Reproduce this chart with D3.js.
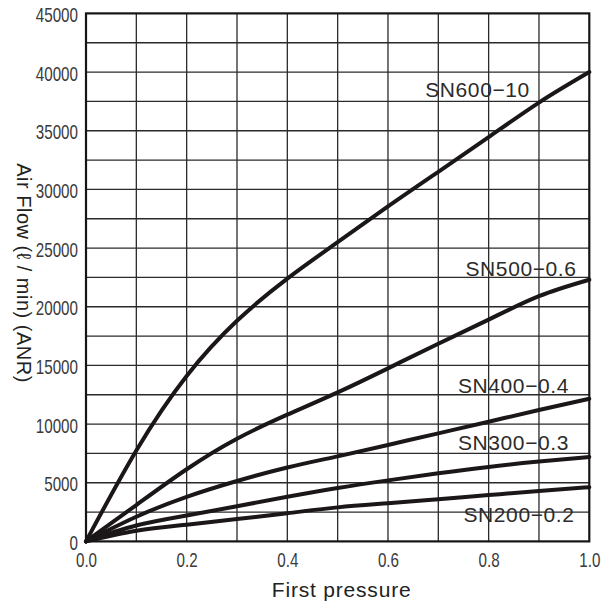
<!DOCTYPE html>
<html>
<head>
<meta charset="utf-8">
<script src="https://cdn.jsdelivr.net/npm/d3@7"></script>
<style>
  body { margin: 0; background: #fff; }
  svg { display: block; font-family: "Liberation Sans", Arial, sans-serif; }
</style>
</head>
<body>
<figure id="chart" style="margin:0"></figure>
<script>
// values
const pressure = [0, 0.1, 0.2, 0.3, 0.4, 0.5, 0.6, 0.7, 0.8, 0.9, 1.0];
const sn600 = [0, 7750, 14100, 18800, 22400, 25500, 28550, 31500, 34450, 37400, 40000];
const sn500 = [0, 3100, 6150, 8750, 10800, 12700, 14750, 16850, 18900, 20900, 22300];
const sn400 = [0, 2100, 3800, 5150, 6300, 7250, 8220, 9210, 10200, 11200, 12150];
const sn300 = [0, 1350, 2200, 3000, 3800, 4550, 5200, 5800, 6350, 6800, 7200];
const sn200 = [0, 900, 1420, 1910, 2400, 2900, 3250, 3600, 3950, 4300, 4620];

const seriesNames = ["SN600\u221210", "SN500\u22120.6", "SN400\u22120.4", "SN300\u22120.3", "SN200\u22120.2"];
const seriesValues = [sn600, sn500, sn400, sn300, sn200];
// where each curve name sits, in chart units (pressure, flow)
const labelAt = [[0.674, 37900], [0.754, 22620], [0.739, 12620], [0.739, 7790], [0.750, 1680]];

const xTicks = [0, 0.2, 0.4, 0.6, 0.8, 1.0];
const yTicks = [0, 5000, 10000, 15000, 20000, 25000, 30000, 35000, 40000, 45000];

let dimensions = {
    width: 603,
    height: 605,
    margin: { top: 13.4, right: 13.7, bottom: 63.6, left: 86 },
};
dimensions.boundedWidth = dimensions.width - dimensions.margin.left - dimensions.margin.right;
dimensions.boundedHeight = dimensions.height - dimensions.margin.top - dimensions.margin.bottom;

const svgRoot = d3.select("figure#chart")
    .append("svg")
    .attr("width", dimensions.width)
    .attr("height", dimensions.height);

const svg = svgRoot.append("g")
    .attr("transform", `translate(${dimensions.margin.left}, ${dimensions.margin.top})`);

const xScale = d3.scaleLinear().domain([0, 1]).range([0, dimensions.boundedWidth]);
const yScale = d3.scaleLinear().domain([0, 45000]).range([dimensions.boundedHeight, 0]);

// grid: every 0.1 across, every 2500 up
svg.append("g")
    .attr("class", "grid")
    .selectAll("line.v")
    .data(d3.range(1, 10).map(i => i / 10))
    .join("line")
    .attr("x1", d => xScale(d)).attr("x2", d => xScale(d))
    .attr("y1", 0).attr("y2", dimensions.boundedHeight)
    .attr("stroke", "#2a2a2a").attr("stroke-width", 1.3);

svg.append("g")
    .attr("class", "grid")
    .selectAll("line.h")
    .data(d3.range(1, 18).map(i => i * 2500))
    .join("line")
    .attr("x1", 0).attr("x2", dimensions.boundedWidth)
    .attr("y1", d => yScale(d)).attr("y2", d => yScale(d))
    .attr("stroke", "#2a2a2a").attr("stroke-width", 1.3);

// curves
const line = d3.line()
    .x((d, i) => xScale(pressure[i]))
    .y(d => yScale(d))
    .curve(d3.curveNatural);

svg.selectAll("path.curve")
    .data(seriesValues)
    .join("path")
    .attr("class", "curve")
    .attr("d", d => line(d))
    .attr("fill", "none")
    .attr("stroke", "#1b1718")
    .attr("stroke-width", 4)
    .attr("stroke-linecap", "round");

// curve names
svg.selectAll("text.name")
    .data(seriesNames)
    .join("text")
    .attr("class", "name")
    .attr("x", (d, i) => xScale(labelAt[i][0]))
    .attr("y", (d, i) => yScale(labelAt[i][1]))
    .attr("font-size", 21)
    .attr("letter-spacing", 0.6)
    .attr("fill", "#2b2b2b")
    .text(d => d);

// frame
svg.append("rect")
    .attr("width", dimensions.boundedWidth)
    .attr("height", dimensions.boundedHeight)
    .attr("fill", "none")
    .attr("stroke", "#151515")
    .attr("stroke-width", 2.2);

// axes (labels only, no tick marks); digits are squeezed like the original
const narrow = 0.76;

const xAxis = svg.append("g")
    .attr("class", "x axis")
    .attr("transform", `translate(0, ${dimensions.boundedHeight})`)
    .call(d3.axisBottom(xScale).tickValues(xTicks).tickSize(0).tickFormat(d3.format(".1f")));
xAxis.select(".domain").remove();
xAxis.selectAll("text")
    .attr("font-size", 20)
    .attr("font-family", "Liberation Sans, Arial, sans-serif")
    .attr("fill", "#3a3a3a")
    .attr("y", 25.3)
    .attr("dy", 0)
    .attr("x", 0)
    .attr("transform", `scale(${narrow},1)`);

const yAxis = svg.append("g")
    .attr("class", "y axis")
    .call(d3.axisLeft(yScale).tickValues(yTicks).tickSize(0));
yAxis.select(".domain").remove();
yAxis.selectAll("text")
    .attr("font-size", 20)
    .attr("font-family", "Liberation Sans, Arial, sans-serif")
    .attr("fill", "#3a3a3a")
    .attr("x", -8 / narrow)
    .attr("dy", "0.4em")
    .attr("transform", `scale(${narrow},1)`)
    .text(d => d);

// axis titles
svgRoot.append("text")
    .attr("x", dimensions.margin.left + dimensions.boundedWidth / 2 + 4)
    .attr("y", 596.5)
    .attr("text-anchor", "middle")
    .attr("font-size", 21)
    .attr("letter-spacing", 0.8)
    .attr("fill", "#222")
    .text("First pressure");

svgRoot.append("text")
    .attr("transform", "translate(17, 273) rotate(90)")
    .attr("text-anchor", "middle")
    .attr("font-size", 20)
    .attr("letter-spacing", 0.5)
    .attr("fill", "#222")
    .text("Air Flow (\u2113 / min) (ANR)");
</script>
</body>
</html>
